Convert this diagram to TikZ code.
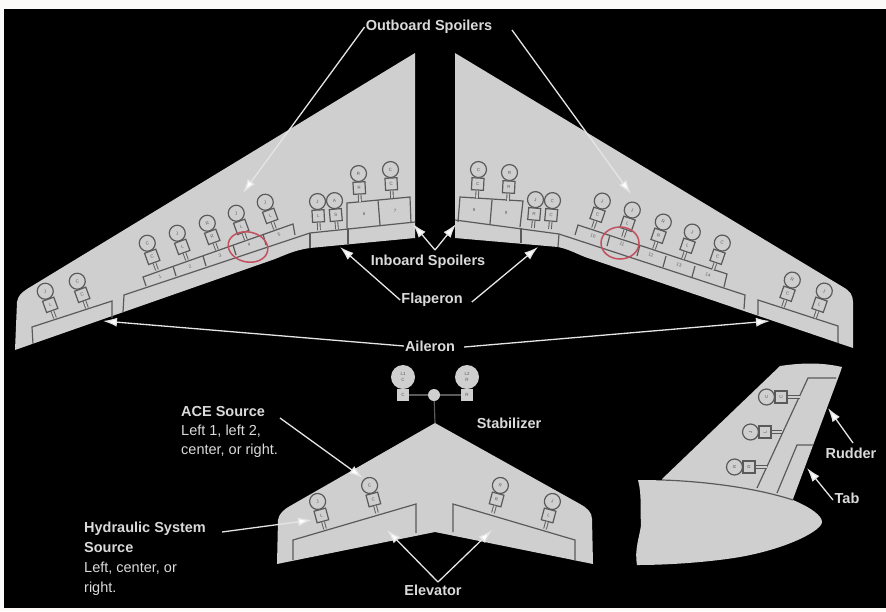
\documentclass[tikz,border=0pt]{standalone}
\usepackage{fontspec}
\setmainfont{Liberation Sans}
\usetikzlibrary{positioning, arrows.meta, calc}

\definecolor{pagewhite}{HTML}{FBFAF8}
\definecolor{skin}{HTML}{CFCFCF}
\definecolor{linegray}{HTML}{5A5A5A}
\definecolor{labelgray}{HTML}{DADADA}
\definecolor{ringred}{HTML}{C2505F}

\tikzset{
    skinpart/.style={fill=skin, draw=none},
    hinge/.style={draw=linegray, line width=1.2pt},
    actcircle/.style={circle, draw=linegray, fill=skin, line width=1.2pt, minimum size=16pt, inner sep=0pt, font=\fontsize{4.5}{4.5}\selectfont, text=linegray, transform shape},
    actbox/.style={rectangle, draw=linegray, fill=skin, line width=1.2pt, minimum size=12pt, inner sep=0pt, font=\fontsize{4.5}{4.5}\selectfont, text=linegray, transform shape},
    actstem/.style={draw=linegray, line width=0.9pt, double=skin, double distance=1.8pt},
    panelnum/.style={font=\fontsize{4.5}{4.5}\selectfont, text=linegray, inner sep=0pt},
    title/.style={font=\bfseries\fontsize{14.5}{17}\selectfont, text=labelgray, inner sep=1pt},
    callout/.style={draw=white!90!black, line width=1.3pt, -{Latex[length=14pt,width=9pt,fill=white]}},
    ring/.style={draw=ringred, line width=1.5pt},
    feed/.style={draw=linegray, line width=1.2pt},
    unitcircle/.style={circle, fill=skin, minimum size=24pt, inner sep=0pt, align=center, font=\fontsize{4.5}{5.5}\selectfont, text=linegray},
    unitbox/.style={rectangle, fill=skin, minimum size=12pt, inner sep=0pt, font=\fontsize{4.5}{4.5}\selectfont, text=linegray},
}

\newcommand{\actuator}[6]{%
    \begin{scope}[shift={(#2,#3)}, rotate=#4]
        \coordinate (#1f) at (0,0);
        \node[actbox] (#1b) at (0,-14) {#6};
        \node[actcircle] (#1c) at (0,-28.5) {#5};
        \draw[actstem] (#1b.south) -- (#1f);
    \end{scope}}

\begin{document}
\begin{tikzpicture}[x=1pt, y=-1pt]
    \useasboundingbox (0,0) rectangle (886,611);
    \fill[pagewhite] (0,0) rectangle (886,611);
    \fill[black] (4,9) rectangle (886,608);

    % left wing
    \path[skinpart] (415,53) -- (415,238) -- (310,248) .. controls (295,250) and (285,255) .. (275,259)
        -- (15,350) -- (17,302) .. controls (18,296) and (21,293) .. (27,289) -- cycle;
    \draw[hinge] (33,344) -- (32,327) -- (112,301) -- (112,318);
    \draw[hinge] (123,312) -- (124,295) -- (310,233) -- (415,222);
    \draw[hinge] (310,248) -- (310,233);
    \draw[hinge] (348,245) -- (348,228);
    \draw[hinge] (146,286) -- (143,277) -- (293,224) -- (295,235);
    \foreach \xa/\ya/\xb/\yb in {173/266/176/276, 203/256/206/266, 233/245/236/255, 263/234/266/245}
        \draw[hinge] (\xa,\ya) -- (\xb,\yb);
    \draw[hinge] (347,228) -- (347,203) -- (410,197) -- (411,223);
    \draw[hinge] (378,200) -- (380,225);

    % right wing
    \path[skinpart] (455,53) -- (843,287) .. controls (850,291) and (853,295) .. (853,302) -- (853,348)
        -- (585,257) .. controls (575,253) and (568,249) .. (558,247) -- (455,238) -- cycle;
    \draw[hinge] (838,343) -- (838,326) -- (758,300) -- (758,315);
    \draw[hinge] (744,309) -- (745,295) -- (559,234) -- (455,220);
    \draw[hinge] (558,247) -- (559,234);
    \draw[hinge] (521,243) -- (521,228);
    \draw[hinge] (575,235) -- (578,225) -- (727,274) -- (724,287);
    \foreach \xa/\ya/\xb/\yb in {610/235/607/246, 640/245/637/256, 666/256/663/267, 695/266/692/277}
        \draw[hinge] (\xa,\ya) -- (\xb,\yb);
    \draw[hinge] (458,222) -- (460,197) -- (523,201) -- (520,227);
    \draw[hinge] (492,200) -- (490,224);

    % panel numbers
    \foreach \n/\x/\y in {1/160/277, 2/190/267, 3/220/256, 4/249/245, 5/279/235}
        \node[panelnum, rotate=20] (spl\n) at (\x,\y) {\n};
    \node[panelnum] (spl6) at (364,214) {6};
    \node[panelnum] (spl7) at (395,211) {7};
    \node[panelnum] (spl8) at (474,210) {8};
    \node[panelnum] (spl9) at (506,213) {9};
    \foreach \n/\x/\y in {10/593/236, 11/622/244, 12/651/255, 13/679/265, 14/708/275}
        \node[panelnum, rotate=-19] (spl\n) at (\x,\y) {\n};

    % wing actuators
    \foreach \nm/\x/\y/\a/\c/\b in {
        a/55/318/20/J/L, b/87/308/20/C/C,
        c/157/270/20/C/C, d/187/260/20/J/L, e/217/250/20/R/R, f/246/240/20/J/L, g/275/229/20/J/L,
        h/319/230/3/J/L, i/337/229/5/A/S, j/360/202/3/R/R, k/392/198/3/C/C,
        l/477/198/-3/C/C, m/508/201/-3/R/R, n/533/228/-5/J/R, o/550/229/-5/C/C,
        p/593/228/-19/J/C, q/623/237/-19/J/L, r/654/249/-19/R/R, s/683/259/-19/J/L, t/713/270/-19/C/C,
        u/783/307/-19/R/C, v/815/318/-19/J/L}
        \actuator{\nm}{\x}{\y}{\a}{\c}{\b};

    \draw[ring, rotate around={-12:(248,247)}] (248,247) ellipse (20pt and 15pt);
    \draw[ring] (620,243) ellipse (19pt and 16pt);

    % stabilizer
    \path[skinpart] (435,423) -- (580,504) .. controls (587,508) and (592,512) .. (592,519) -- (593,564)
        -- (435,532) -- (277,564) -- (278,520) .. controls (279,514) and (283,510) .. (290,506) -- cycle;
    \draw[hinge] (293,560) -- (293,540) -- (416,504) -- (416,533);
    \draw[hinge] (453,532) -- (453,504) -- (575,540) -- (575,560);
    \foreach \nm/\x/\y/\a/\c/\b in {w/325/529/15/J/L, x/377/513/15/C/C, y/493/513/-15/R/R, z/545/529/-15/J/L}
        \actuator{\nm}{\x}{\y}{\a}{\c}{\b};

    % stabilizer trim units
    \node[unitcircle] (unitlc) at (403,377) {L1\\C};
    \node[unitcircle] (unitrc) at (467,377) {L2\\R};
    \node[unitbox] (unitlb) at (403,395) {C};
    \node[unitbox] (unitrb) at (467,395) {R};
    \node[circle, fill=skin, minimum size=12pt, inner sep=0pt] (jack) at (434,395) {};
    \coordinate (apex) at (435,423);
    \draw[feed] (unitlb) -- (jack);
    \draw[feed] (unitrb) -- (jack);
    \draw[feed] (jack) -- (apex);

    % fin and fuselage
    \path[skinpart] (662,479) -- (780,366) .. controls (800,363) and (820,362) .. (842,367)
        -- (840,373) -- (793,499) -- (795,510) -- (662,490) -- cycle;
    \draw[hinge] (757,488) -- (808,378) -- (836,378);
    \draw[hinge] (777,493) -- (797,445) -- (813,445);
    \foreach \nm/\x/\y/\c/\b/\e in {aa/795/397/C/C/800, ab/779/432/J/L/782, ac/763/467/R/R/767} {
        \actuator{\nm}{\x}{\y}{90}{\c}{\b};
        \coordinate (\nm h) at (\e,\y);
        \draw[actstem] (\nm f) -- (\nm h);
    }
    \path[skinpart] (638,480) .. controls (690,480) and (750,486) .. (793,500)
        .. controls (812,508) and (822,516) .. (822,522)
        .. controls (822,530) and (790,548) .. (740,557)
        .. controls (710,562) and (670,565) .. (637,565)
        .. controls (634,550) and (640,535) .. (641,525)
        .. controls (640,510) and (642,495) .. (638,480) -- cycle;
    \draw[hinge] (662,480) .. controls (695,481) and (750,486) .. (793,500);

    % text
    \node[title] (outboard) at (429,27) {Outboard Spoilers};
    \node[title] (inboard) at (428,262) {Inboard Spoilers};
    \node[title] (flaperon) at (432,300) {Flaperon};
    \node[title] (aileron) at (430,346) {Aileron};
    \node[title] (stabilizer) at (509,423) {Stabilizer};
    \node[title] (elevator) at (433,590) {Elevator};
    \node[title] (rudder) at (851,453) {Rudder};
    \node[title] (tab) at (847,498) {Tab};
    \node[title, align=left, anchor=north west] (acesrc) at (180,405)
        {ACE Source\\[2pt]\mdseries Left 1, left 2,\\[2pt]\mdseries center, or right.};
    \node[title, align=left, anchor=north west] (hydsrc) at (83,521)
        {Hydraulic System\\[3pt]Source\\[3pt]\mdseries Left, center, or\\[3pt]\mdseries right.};

    % callouts
    \coordinate (tipa) at (243,193);
    \coordinate (tipb) at (631,194);
    \coordinate (tipc) at (413,224);
    \coordinate (tipd) at (456,224);
    \coordinate (tipe) at (340,247);
    \coordinate (tipf) at (538,247);
    \coordinate (tipg) at (103,321);
    \coordinate (tiph) at (770,321);
    \coordinate (tipi) at (363,478);
    \coordinate (tipj) at (312,520);
    \coordinate (tipk) at (387,530);
    \coordinate (tipl) at (492,530);
    \coordinate (tipm) at (828,408);
    \coordinate (tipn) at (807,468);
    \coordinate (fromin) at (435,250);
    \coordinate (fromace) at (280,418);
    \coordinate (fromhyd) at (222,532);
    \coordinate (fromelv) at (438,582);
    \coordinate (fromrud) at (853,443);
    \coordinate (fromtab) at (833,500);
    \coordinate (fromoutr) at (512,30);
    \draw[callout] (outboard.west) -- (tipa);
    \draw[callout] (fromoutr) -- (tipb);
    \draw[callout] (fromin) -- (tipc);
    \draw[callout] (fromin) -- (tipd);
    \draw[callout] (flaperon.west) -- (tipe);
    \draw[callout] (flaperon.east) ++(8,2) -- (tipf);
    \draw[callout] (aileron.west) -- (tipg);
    \draw[callout] (aileron.east) ++(8,1) -- (tiph);
    \draw[callout] (fromace) -- (tipi);
    \draw[callout] (fromhyd) -- (tipj);
    \draw[callout] (fromelv) -- (tipk);
    \draw[callout] (fromelv) -- (tipl);
    \draw[callout] (fromrud) -- (tipm);
    \draw[callout] (fromtab) -- (tipn);
\end{tikzpicture}
\end{document}
